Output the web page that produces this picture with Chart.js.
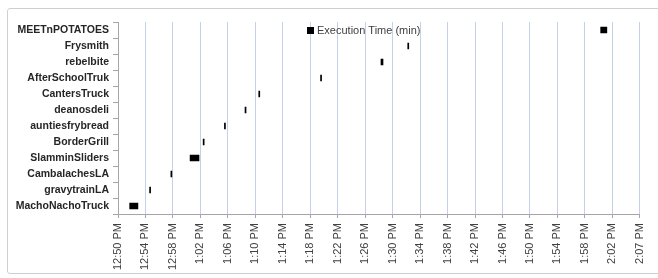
<!DOCTYPE html>
<html>
<head>
<meta charset="utf-8">
<script src="https://cdn.jsdelivr.net/npm/chart.js@4/dist/chart.umd.min.js"></script>
<style>
    body { margin: 0; background: #fff; }
    .frame {
        position: absolute; left: 7px; top: 8px; width: 660px; height: 264px;
        border: 1px solid #cfcfcf; border-radius: 3px;
    }
    .wrap { position: absolute; left: 0; top: 0; width: 658px; height: 278px; }
</style>
</head>
<body>
<div class="frame"></div>
<div class="wrap"><canvas id="chart" width="658" height="278"></canvas></div>
<script>
// trucks, listed top to bottom
const trucks = ['MEETnPOTATOES', 'Frysmith', 'rebelbite', 'AfterSchoolTruk', 'CantersTruck', 'deanosdeli',
    'auntiesfrybread', 'BorderGrill', 'SlamminSliders', 'CambalachesLA', 'gravytrainLA', 'MachoNachoTruck'];
// start, minutes after 12:50 PM
const startMin = [70.3, 42.2, 38.3, 29.5, 20.5, 18.5, 15.5, 12.4, 10.5, 7.7, 4.6, 1.7];
// execution time (min)
const execMin = [0.9, 0.15, 0.3, 0.15, 0.15, 0.15, 0.15, 0.15, 1.3, 0.15, 0.15, 1.2];
const timeLabels = ['12:50 PM', '12:54 PM', '12:58 PM', '1:02 PM', '1:06 PM', '1:10 PM', '1:14 PM', '1:18 PM',
    '1:22 PM', '1:26 PM', '1:30 PM', '1:34 PM', '1:38 PM', '1:42 PM', '1:46 PM', '1:50 PM', '1:54 PM',
    '1:58 PM', '2:02 PM', '2:07 PM'];

const legendInPlot = {
    id: 'legendInPlot',
    afterDraw(chart) {
        const ctx = chart.ctx;
        const ds = chart.data.datasets[0];
        ctx.save();
        ctx.fillStyle = ds.backgroundColor;
        ctx.fillRect(307, 27, 7, 7);
        ctx.fillStyle = '#404040';
        ctx.font = '11px "Liberation Sans", Arial, sans-serif';
        ctx.textBaseline = 'middle';
        ctx.fillText(ds.label, 317, 31);
        ctx.restore();
    }
};

new Chart(document.getElementById('chart'), {
    type: 'bar',
    data: {
        labels: trucks,
        datasets: [{
            label: 'Execution Time (min)',
            data: startMin.map((s, i) => [s, s + execMin[i]]),
            backgroundColor: '#000000',
            barThickness: 6,
            borderSkipped: false
        }]
    },
    options: {
        indexAxis: 'y',
        responsive: false,
        animation: false,
        layout: { padding: { top: 22, right: 16, left: 0, bottom: 0 } },
        plugins: {
            legend: { display: false },
            tooltip: { enabled: false }
        },
        scales: {
            x: {
                type: 'linear',
                min: 0,
                max: 76,
                afterFit: (scale) => { scale.height = 64; },
                afterBuildTicks: (scale) => {
                    scale.ticks = timeLabels.map((t, i) => ({ value: i * 4 }));
                },
                ticks: {
                    callback: (v) => timeLabels[Math.round(v / 4)],
                    minRotation: 90,
                    maxRotation: 90,
                    autoSkip: false,
                    padding: 5,
                    color: '#404040',
                    font: { family: '"Liberation Sans", Arial, sans-serif', size: 11 }
                },
                grid: { color: '#c3d1ea', tickColor: '#a6a6a6', tickLength: 4 },
                border: { color: '#a6a6a6' }
            },
            y: {
                afterFit: (scale) => { scale.width = 118; },
                ticks: {
                    color: '#262626',
                    padding: 4,
                    font: { family: '"Liberation Sans", Arial, sans-serif', size: 10.5, weight: 'bold' }
                },
                grid: { drawOnChartArea: false, tickColor: '#a6a6a6', tickLength: 5 },
                border: { color: '#a6a6a6' }
            }
        }
    },
    plugins: [legendInPlot]
});
</script>
</body>
</html>
